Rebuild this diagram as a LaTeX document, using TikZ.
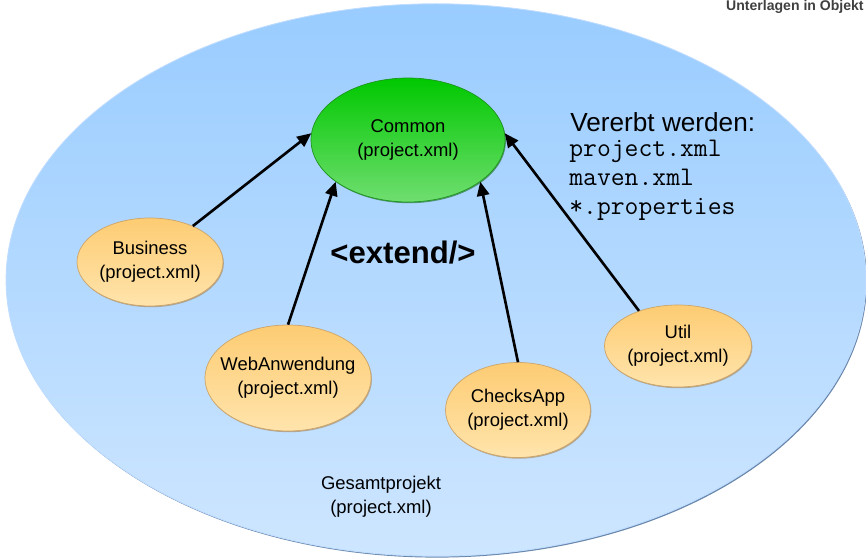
\documentclass[tikz,border=0pt]{standalone}
\usepackage{fontspec}
\setmainfont{Liberation Sans}
\usetikzlibrary{shapes.geometric,arrows.meta,shadows}

\definecolor{skytop}{RGB}{153,204,255}
\definecolor{skybot}{RGB}{206,230,255}
\definecolor{skyrim}{RGB}{190,220,255}
\definecolor{skyedge}{RGB}{105,135,170}
\definecolor{greentop}{RGB}{0,200,0}
\definecolor{greenbot}{RGB}{112,222,112}
\definecolor{greenedge}{RGB}{30,150,30}
\definecolor{oratop}{RGB}{253,204,115}
\definecolor{orabot}{RGB}{255,228,172}
\definecolor{oraedge}{RGB}{205,165,105}

\begin{document}
\begin{tikzpicture}[x=0.02cm,y=-0.02cm,
  labeltext/.style={inner sep=0pt, align=center, text=black,
    font=\fontsize{10.5}{13.6}\selectfont},
  proj/.style={labeltext, ellipse},
  modul/.style={proj, draw=oraedge, line width=0.4pt,
    top color=oratop, bottom color=orabot,
    drop shadow={shadow xshift=0.5pt, shadow yshift=-0.7pt, fill=oraedge!80!black, opacity=0.6}},
  basis/.style={proj, draw=greenedge, line width=0.4pt,
    top color=greentop, bottom color=greenbot,
    drop shadow={shadow xshift=0.5pt, shadow yshift=-0.7pt, fill=greenedge!70!black, opacity=0.6}},
  inherit/.style={line width=1.5pt, -{Triangle[length=8pt,width=7pt]}},
  mono/.style={anchor=base west, inner sep=0pt, font=\ttfamily\fontsize{15.3}{16}\selectfont}]

\useasboundingbox (0,0) rectangle (866,560);

% overall project
\node[ellipse, minimum width=17.2cm, minimum height=11.05cm, inner sep=0pt,
  draw=skyrim, line width=0.5pt, top color=skytop, bottom color=skybot,
  drop shadow={shadow xshift=0.6pt, shadow yshift=-0.8pt, fill=skyedge, opacity=1}]
  (gesamt) at (436,280) {};

% header line
\node[anchor=north east, inner sep=0pt, text=black!75,
  font=\bfseries\fontsize{8}{9}\selectfont] (kopf) at (864,0) {Unterlagen in Objekt};

% modules
\node[basis, minimum width=3.88cm, minimum height=2.48cm] (common) at (408,140) {Common\\(project.xml)};
\node[modul, minimum width=2.92cm, minimum height=1.76cm] (business) at (150,262) {Business\\(project.xml)};
\node[modul, inner xsep=-5pt, minimum width=3.24cm, minimum height=2.12cm] (web) at (288,378) {WebAnwendung\\(project.xml)};
\node[modul, minimum width=2.90cm, minimum height=1.90cm] (checks) at (518,410) {ChecksApp\\(project.xml)};
\node[modul, minimum width=2.94cm, minimum height=1.64cm] (util) at (678,346) {Util\\(project.xml)};

% inheritance
\draw[inherit] (business.40) -- (common.176);
\draw[inherit] (web.90) -- (common.210);
\draw[inherit] (checks.90) -- (common.330);
\draw[inherit] (util.138) -- (common.4);

% labels
\node[inner sep=0pt, font=\bfseries\fontsize{17.7}{20}\selectfont] (extend) at (403,253) {<extend/>};
\node[anchor=base west, inner sep=0pt, font=\fontsize{14.9}{17}\selectfont] (vererbt) at (570,132) {Vererbt werden:};
\node[mono] (datei1) at (569,157) {project.xml};
\node[mono] (datei2) at (569,186) {maven.xml};
\node[mono] (datei3) at (569,215) {*.properties};
\node[labeltext] (gesamtlabel) at (381,497) {Gesamtprojekt\\(project.xml)};
\end{tikzpicture}
\end{document}
